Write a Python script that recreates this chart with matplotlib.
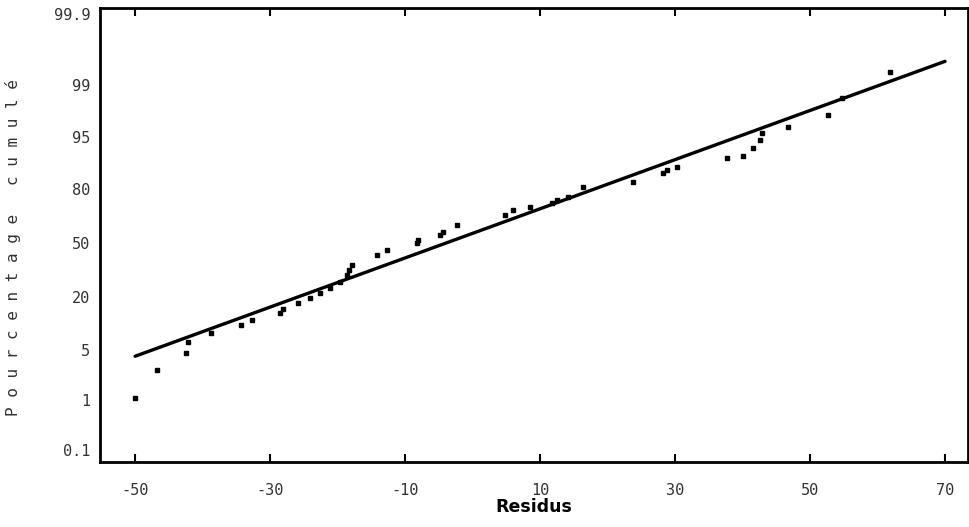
import numpy as np
import matplotlib
matplotlib.use("Agg")
import matplotlib.pyplot as plt

# ---- data ----
residus = [-50.0, -46.7, -42.4, -42.1, -38.7, -34.3, -32.7, -28.5, -28.1, -25.9,
           -24.1, -22.6, -21.1, -19.6, -18.6, -18.3, -17.9, -14.1, -12.7, -8.2,
           -8.1, -4.8, -4.4, -2.3, 4.8, 6.0, 8.5, 11.8, 12.5, 14.1,
           16.4, 23.8, 28.2, 28.8, 30.3, 37.7, 40.1, 41.6, 42.6, 42.9,
           46.7, 52.7, 54.7, 61.9]
pourcentage = [1.2, 3.4, 4.8, 7.3, 9.8, 12.1, 13.5, 15.5, 16.6, 18.3,
               19.7, 22.2, 25.0, 28.3, 32.2, 35.0, 37.8, 43.3, 46.1, 50.0,
               51.7, 54.4, 56.1, 60.0, 65.6, 68.3, 70.0, 72.2, 73.9, 75.6,
               80.6, 82.0, 84.6, 85.5, 86.3, 88.9, 89.5, 91.8, 94.1, 95.3,
               95.8, 96.7, 98.0, 99.16]
droite_x = [-50, 70]
droite_pct = [4.5, 99.3]
x_ticks = [-50, -30, -10, 10, 30, 50, 70]
y_ticks = [0.1, 1, 5, 20, 50, 80, 95, 99, 99.9]
y_ticklabels = ["0.1", "1", "5", "20", "50", "80", "95", "99", "99.9"]

# ---- probability-paper style scale (layout of the printed axis) ----
_p_anchor = np.array([0, 0.1, 1, 5, 20, 50, 80, 95, 99, 99.9, 100])
_pos_anchor = np.array([0, 12, 62, 112, 165, 219, 273, 325, 377, 448, 454], dtype=float)

def fwd(p):
    return np.interp(p, _p_anchor, _pos_anchor)

def inv(y):
    return np.interp(y, _pos_anchor, _p_anchor)

fig = plt.figure(figsize=(9.7, 5.27), dpi=100)
ax = fig.add_axes([100/970, 1-462/527, 868/970, 454/527])
ax.set_yscale("function", functions=(fwd, inv))
ax.set_xlim(-55.2, 73.4)
ax.set_ylim(0, 100)

ax.plot(droite_x, droite_pct, color="black", lw=2.4, solid_capstyle="round")
ax.plot(residus, pourcentage, linestyle="none", marker="s", markersize=3.2,
        color="black")

ax.set_xticks(x_ticks)
ax.set_xticklabels([str(v) for v in x_ticks], family="DejaVu Sans Mono",
                   fontsize=11, color="#333333")
ax.set_yticks(y_ticks)
ax.set_yticklabels(y_ticklabels, family="DejaVu Sans Mono", fontsize=11,
                   color="#333333")
ax.yaxis.set_minor_locator(matplotlib.ticker.NullLocator())
ax.xaxis.set_minor_locator(matplotlib.ticker.NullLocator())
ax.tick_params(axis="x", direction="in", length=6, width=1.5, top=True,
               bottom=True, pad=15)
ax.tick_params(axis="y", length=0, pad=7)

for s in ax.spines.values():
    s.set_linewidth(2)
    s.set_color("black")

ax.set_xlabel("Residus", fontsize=12.5, fontweight="bold", labelpad=0,
              family="DejaVu Sans Condensed")
fig.text(0.013, 0.53, "P o u r c e n t a g e   c u m u l é", rotation=90,
         va="center", ha="center", fontsize=11.5, family="DejaVu Sans Mono",
         color="#333333")

fig.savefig("out.png", dpi=100)
